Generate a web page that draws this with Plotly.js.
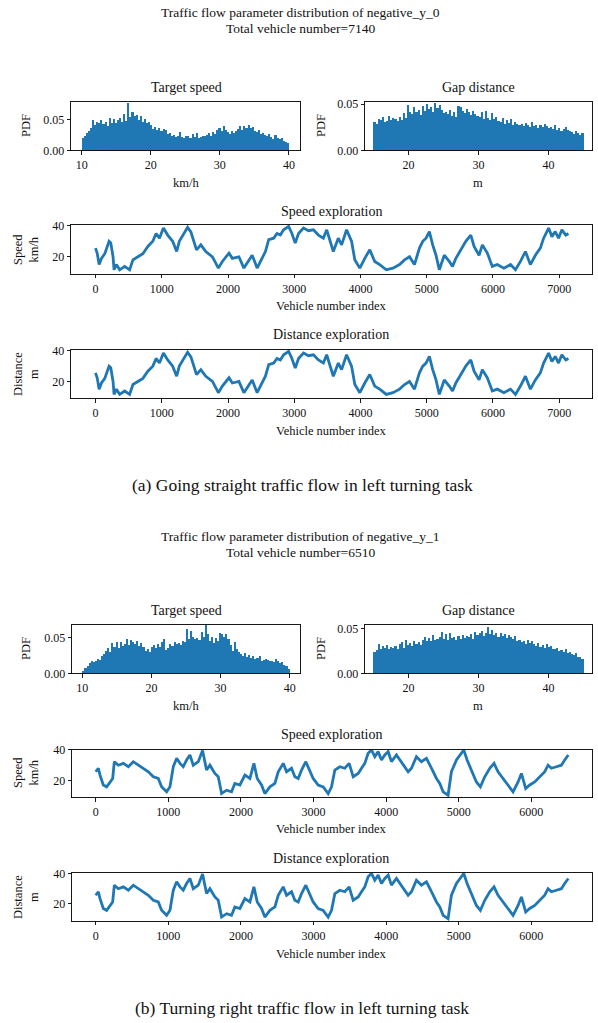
<!DOCTYPE html>
<html><head><meta charset="utf-8">
<script src="https://cdn.plot.ly/plotly-3.0.1.min.js"></script>
<style>html,body{margin:0;padding:0;background:#fff}#chart{width:598px;height:1023px}</style>
</head><body><div id="chart"></div>
<script>
const W = 598, H = 1023;

// ---------- DATA ----------
const titleA = ["Traffic flow parameter distribution of negative_y_0", "Total vehicle number=7140"];
const titleB = ["Traffic flow parameter distribution of negative_y_1", "Total vehicle number=6510"];
const captionA = "(a) Going straight traffic flow in left turning task";
const captionB = "(b) Turning right traffic flow in left turning task";

const speedBinStart = 10, gapBinStart = 15, binWidth = 0.3;

const targetSpeedA = [0.021,0.023,0.029,0.032, 0.036,0.050,0.041,
  0.047,0.044,0.049,0.043,0.046,0.040,0.053,0.045,0.051,0.044,0.049,0.052,0.047,
  0.060,0.048,0.077, 0.055,0.063,0.056,0.057,0.050,0.056,0.046,
  0.051,0.044,0.047,0.042, 0.035,0.038,0.034,0.036,0.031,0.035,0.033,
  0.026,0.028,0.023,0.025,0.022,0.024,0.030,0.022,0.021,0.024,0.023,0.020,0.026,0.022,0.029,0.021,0.022,0.024,0.023,
  0.025,0.028,0.024,0.030,0.027,0.033,0.036,0.032,0.040,0.034,
  0.030,0.027,0.031,0.028,0.032, 0.035,0.039,0.033,0.040,0.036,0.041,0.037,0.038,0.031,
  0.030,0.034,0.026,0.028,0.025,0.024,0.027, 0.022,0.019,0.025,0.021,0.018,0.020, 0.016,0.014,0.012];

const gapDistanceA = [0.031,0.029,0.034,0.033,0.036,0.031,0.032,0.037,0.033,0.035,
  0.034,0.032,0.036,0.033,0.040,0.035,
  0.049,0.041,0.039,0.047,0.042,0.044,0.038,0.048,
  0.043,0.050,0.045,0.047,0.041,0.051,0.046,0.049,0.044,0.040,
  0.042,0.039,0.044,0.037,0.041,0.036,0.048,
  0.047,0.043,0.040,0.045,0.041,0.038,0.043,0.039,0.037,
  0.036,0.041,0.034,0.043,0.035,0.033,0.040,0.034,0.036,0.032,
  0.031,0.035,0.029,0.033,0.030,0.034,0.028,0.031,0.029,0.027,
  0.029,0.026,0.030,0.027,0.025,0.031,0.026,0.028,0.024,0.027,0.025,0.029,0.026,0.024,
  0.025,0.023,0.027,0.022,0.024,0.021,0.023,0.025,0.022,0.021,
  0.020,0.018,0.021,0.019,0.017,0.019];

const targetSpeedB = [0.004,0.008,0.011,0.015, 0.017,0.016,0.018,0.020,0.019,0.024,
  0.027,0.032,0.036,0.030,0.043,0.038,0.044, 0.036,0.045,0.039,0.042,0.049,0.040,0.047,
  0.044,0.041,0.046,0.039,0.043,0.038, 0.031,0.034,0.030,0.037,
  0.040,0.036,0.041,0.037,0.044,0.049,0.033,
  0.036,0.042,0.039,0.045,0.041,0.043,0.040,0.046,0.044,
  0.062,0.048,0.060,0.051,0.049,0.050, 0.047,0.058,0.052,0.068,0.055,
  0.046,0.052,0.043,0.050,0.046,0.057, 0.055,0.051,0.056,0.048, 0.040,0.032,0.045,0.034,
  0.030,0.027,0.025,0.029,0.023,0.026,0.022,0.024,0.021,
  0.022,0.024,0.018,0.019,0.021,0.019,0.018, 0.018,0.016,0.021,0.017,0.015,0.016, 0.012,0.010,0.006];

const gapDistanceB = [0.024,0.026,0.033,0.028,0.031,0.029,0.032,0.027,0.030,0.029,
  0.031,0.028,0.033,0.035,0.029,0.038,0.032,
  0.034,0.031,0.036,0.033,0.035,0.032,0.038,
  0.041,0.037,0.040,0.036,0.043,0.038,0.039,
  0.041,0.047,0.039,0.044,0.038,0.046,0.040,
  0.041,0.038,0.042,0.039,0.043,0.040,0.042,
  0.041,0.044,0.039,0.047,0.043,
  0.045,0.048,0.042,0.046,0.052,0.044,
  0.049,0.043,0.046,0.041,0.045,0.042,0.044,0.040,0.043,0.041,
  0.039,0.042,0.036,0.038,0.035,0.037,0.033,0.038,0.034,0.036,
  0.033,0.031,0.034,0.030,0.032,0.029,0.033,0.030,0.031,0.028,
  0.027,0.029,0.025,0.026,0.024,0.027,0.023,
  0.024,0.022,0.021,0.023,0.019,0.018,0.016];

const vehicleIndexA = [0,25,55,90,140,205,230,265,280,315,365,440,515,565,640,715,790,865,915,965,
  1025,1090,1165,1225,1265,1340,1390,1440,1490,1525,1590,1665,1765,1855,1915,2015,2065,2165,2240,2315,
  2365,2440,2515,2565,2615,2690,2740,2790,2840,2915,2965,3015,3065,3140,3215,3290,3365,3440,3490,3540,
  3590,3665,3715,3790,3865,3915,3990,4065,4140,4215,4290,4390,4490,4590,4665,4740,4815,4890,4940,4990,
  5040,5090,5140,5190,5265,5340,5390,5440,5515,5590,5665,5715,5790,5840,5915,5990,6065,6165,6265,6340,
  6415,6490,6565,6640,6715,6765,6840,6890,6940,6990,7040,7100,7139];
const speedExplorationA = [25.6,22.4,15,19,22,30,29,20,11.6,15,11.6,13.8,11.6,18,20,22,26.7,30,35,32,
  38.5,34,30,23.4,30,35,39,36,30,24.5,27.7,23.4,20,12.7,17,22.4,19,20,12.7,18,
  21,12.7,19,23.4,31,32,35,34,37.4,39.6,35,28.8,35,38.5,36.8,37.4,34,32,37.4,31,
  23.4,32,27.7,37.4,30,18,12.7,19,24.5,17,15,11.6,12.7,15,18,20,15,25.6,30,32,
  36.3,27.7,21,11.6,21,17,13.8,19,24.5,30,34,26.7,21,27.7,22.4,13.8,15,12.7,15,11.6,
  17,23.4,15,21,25.6,32,38.5,33,36.3,32,37.4,34,35];
// The distance-exploration curve in the reference is identical to the speed one
const distanceExplorationA = speedExplorationA.slice();

const vehicleIndexB = [0,37,60,105,151,197,234,257,312,381,450,518,587,656,725,794,862,908,977,1023,
  1069,1115,1161,1206,1252,1298,1344,1413,1472,1527,1573,1642,1688,1734,1803,1871,1917,1986,2055,2124,
  2179,2225,2284,2330,2399,2468,2514,2583,2629,2697,2743,2789,2835,2894,2949,2995,3064,3133,3202,3248,
  3294,3362,3431,3491,3546,3615,3661,3706,3752,3798,3844,3890,3936,3982,4028,4073,4142,4188,4234,4303,
  4349,4417,4486,4555,4624,4693,4739,4785,4853,4899,4968,5014,5069,5115,5174,5243,5298,5358,5427,5486,
  5541,5610,5679,5748,5817,5863,5922,5977,6046,6115,6184,6230,6276,6344,6413,6459,6509];
const speedExplorationB = [25.7,28,23.5,17,15.8,19,21.3,32.3,30,31.2,29,32.3,30,28,25.7,22.4,21.3,15.8,12.5,15.8,
  29,34.5,31.2,29,33.4,36.7,30,32.3,39.6,26.8,30,24.6,22.4,11.4,13.6,12.5,18,17,23.5,21.3,
  31.2,21.3,17,11.4,15.8,18,25.7,31.2,25.7,28,22.4,21.3,26.8,32.3,26.8,21.3,17,15.8,11.4,15.8,
  26.8,29,28,31.2,22.4,24.6,28,31.2,37.8,40,35.6,38.9,33.4,36.7,38.9,32.3,36.7,33.4,30,25.7,
  28,35.6,32.3,34.5,28,21.3,18,12.5,10.3,25.7,33.4,36.7,40,33.4,26.8,19,15.8,22.4,28,31.2,
  25.7,21.3,17,12.5,19,24.6,14.7,17,19,22.4,25.7,30,28,29,30,33.4,36.7];
const distanceExplorationB = speedExplorationB.slice();

// ---------- LAYOUT HELPERS ----------
const FONT = "Liberation Serif, Times New Roman, serif";
const BLUE = "#1f77b4";
const px = (x) => x / W;
const py = (y) => 1 - y / H;

function binCenters(start, n) { return Array.from({length: n}, (_, i) => start + binWidth * (i + 0.5)); }

function baseAxis(dom, range, extra) {
  return Object.assign({
    domain: dom, range: range, showline: true, mirror: true, linecolor: "#000", linewidth: 0.9,
    ticks: "outside", ticklen: 3.5, tickwidth: 0.9, tickcolor: "#000", showgrid: false, zeroline: false,
    tickfont: {family: FONT, size: 12, color: "#111"}, fixedrange: true
  }, extra || {});
}

const boxes = {
  // [left, right, top, bottom] in pixels
  a1: [71, 300, 101.5, 150.5], a2: [365, 592, 101.5, 150.5],
  a3: [71, 592, 225, 274], a4: [71, 592, 350, 398.5],
  b1: [72, 300, 624.5, 673.5], b2: [365, 592, 624.5, 673.5],
  b3: [72, 592, 749.5, 797.5], b4: [72, 592, 873, 921]
};
const xd = (b) => [px(b[0]), px(b[1])];
const yd = (b) => [py(b[3]), py(b[2])];

const traces = [];
function addBar(vals, start, n) {
  traces.push({type: "bar", x: binCenters(start, vals.length), y: vals, width: binWidth,
    marker: {color: BLUE, line: {width: 0}}, xaxis: "x" + (n === 1 ? "" : n), yaxis: "y" + (n === 1 ? "" : n),
    hoverinfo: "skip"});
}
function addLine(xs, ys, n) {
  traces.push({type: "scatter", mode: "lines", x: xs, y: ys, line: {color: BLUE, width: 2.8},
    xaxis: "x" + n, yaxis: "y" + n, hoverinfo: "skip"});
}
addBar(targetSpeedA, speedBinStart, 1);
addBar(gapDistanceA, gapBinStart, 2);
addLine(vehicleIndexA, speedExplorationA, 3);
addLine(vehicleIndexA, distanceExplorationA, 4);
addBar(targetSpeedB, speedBinStart, 5);
addBar(gapDistanceB, gapBinStart, 6);
addLine(vehicleIndexB, speedExplorationB, 7);
addLine(vehicleIndexB, distanceExplorationB, 8);

const histY = {tickvals: [0, 0.05], ticktext: ["0.00", "0.05"]};
const expY = {tickvals: [20, 40]};
const layout = {
  width: W, height: H, margin: {l: 0, r: 0, t: 0, b: 0}, showlegend: false,
  paper_bgcolor: "#fff", plot_bgcolor: "#fff", bargap: 0,
  font: {family: FONT, color: "#111"},
  xaxis: baseAxis(xd(boxes.a1), [8.45, 41.6], {tickvals: [10, 20, 30, 40], anchor: "y"}),
  yaxis: baseAxis(yd(boxes.a1), [0, 0.0795], Object.assign({anchor: "x"}, histY)),
  xaxis2: baseAxis(xd(boxes.a2), [13.8, 46.2], {tickvals: [20, 30, 40], anchor: "y2"}),
  yaxis2: baseAxis(yd(boxes.a2), [0, 0.0528], Object.assign({anchor: "x2"}, histY)),
  xaxis3: baseAxis(xd(boxes.a3), [-370, 7495], {tickvals: [0,1000,2000,3000,4000,5000,6000,7000], anchor: "y3"}),
  yaxis3: baseAxis(yd(boxes.a3), [8.9, 40.5], Object.assign({anchor: "x3"}, expY)),
  xaxis4: baseAxis(xd(boxes.a4), [-370, 7495], {tickvals: [0,1000,2000,3000,4000,5000,6000,7000], anchor: "y4"}),
  yaxis4: baseAxis(yd(boxes.a4), [8.9, 40.5], Object.assign({anchor: "x4"}, expY)),
  xaxis5: baseAxis(xd(boxes.b1), [8.5, 41.5], {tickvals: [10, 20, 30, 40], anchor: "y5"}),
  yaxis5: baseAxis(yd(boxes.b1), [0, 0.069], Object.assign({anchor: "x5"}, histY)),
  xaxis6: baseAxis(xd(boxes.b2), [13.8, 46.2], {tickvals: [20, 30, 40], anchor: "y6"}),
  yaxis6: baseAxis(yd(boxes.b2), [0, 0.055], Object.assign({anchor: "x6"}, histY)),
  xaxis7: baseAxis(xd(boxes.b3), [-326, 6835], {tickvals: [0,1000,2000,3000,4000,5000,6000], anchor: "y7"}),
  yaxis7: baseAxis(yd(boxes.b3), [8.8, 40.3], Object.assign({anchor: "x7"}, expY)),
  xaxis8: baseAxis(xd(boxes.b4), [-326, 6835], {tickvals: [0,1000,2000,3000,4000,5000,6000], anchor: "y8"}),
  yaxis8: baseAxis(yd(boxes.b4), [8.8, 40.3], Object.assign({anchor: "x8"}, expY)),
  annotations: []
};

function ann(text, x, y, size, angle) {
  layout.annotations.push({text: text, x: px(x), y: py(y), xref: "paper", yref: "paper",
    xanchor: "center", yanchor: "middle", showarrow: false, textangle: angle || 0,
    font: {family: FONT, size: size, color: "#111"}});
}
function panel(off, titles, caption) {
  ann(titles[0], 300, 13 + off, 13.5);
  ann(titles[1], 300, 29 + off, 13.5);
  ann("Target speed", 186, 87 + off, 14);
  ann("Gap distance", 478, 87 + off, 14);
  ann("PDF", 26, 126 + off, 12.5, -90);
  ann("PDF", 321, 126 + off, 12.5, -90);
  ann("km/h", 186, 183 + off, 12.5);
  ann("m", 478, 183 + off, 12.5);
  ann("Speed exploration", 331, 211 + off, 14);
  ann("Speed<br>km/h", 26, 250 + off, 12.5, -90);
  ann("Vehicle number index", 331, 306 + off, 12.5);
  ann("Distance exploration", 331, 335 + off, 14);
  ann("Distance<br>m", 26, 374 + off, 12.5, -90);
  ann("Vehicle number index", 331, 431 + off, 12.5);
  ann(caption, 302, 485 + off, 17.5);
}
panel(0, titleA, captionA);
panel(523, titleB, captionB);

Plotly.newPlot("chart", traces, layout, {staticPlot: true, displayModeBar: false});
</script></body></html>
